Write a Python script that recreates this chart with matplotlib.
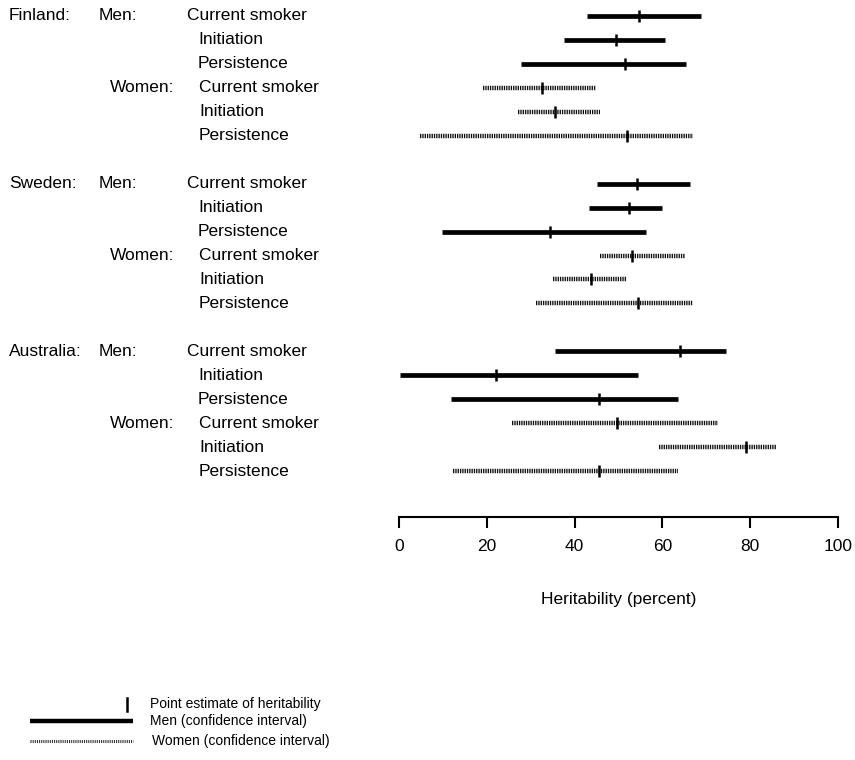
import matplotlib
matplotlib.use("Agg")
import matplotlib.pyplot as plt
from matplotlib.lines import Line2D
import matplotlib.transforms as mtransforms

plt.rcParams['font.family'] = ['Liberation Sans', 'DejaVu Sans']

countries = ["Finland:", "Sweden:", "Australia:"]
sexes = ["Men:", "Women:"]
measures = ["Current smoker", "Initiation", "Persistence"]

# per country: men (current, initiation, persistence), women (current, initiation, persistence)
low = {
    "Finland:":   [42.8, 37.5, 27.7, 19.2, 27.1, 4.8],
    "Sweden:":    [45.2, 43.3, 9.7, 45.8, 35.0, 31.1],
    "Australia:": [35.5, 0.2, 11.8, 25.8, 59.2, 12.4],
}
high = {
    "Finland:":   [68.8, 60.7, 65.4, 44.8, 45.8, 67.0],
    "Sweden:":    [66.3, 59.8, 56.3, 65.1, 51.9, 67.0],
    "Australia:": [74.6, 54.5, 63.6, 72.6, 85.9, 63.5],
}
est = {
    "Finland:":   [54.7, 49.4, 51.4, 32.5, 35.5, 51.9],
    "Sweden:":    [54.3, 52.3, 34.5, 53.0, 43.7, 54.4],
    "Australia:": [64.0, 22.2, 45.5, 49.7, 79.0, 45.6],
}
xticks = [0, 20, 40, 60, 80, 100]

fig = plt.figure(figsize=(8.55, 7.6), dpi=100)
ax = fig.add_axes([399 / 855, 243 / 760, 439 / 855, 517 / 760])

W = 855.0
H = 760.0
trans = mtransforms.blended_transform_factory(fig.transFigure, ax.transData)

fs = 12.5
row = 0
for c in countries:
    for si, s in enumerate(sexes):
        for mi, m in enumerate(measures):
            k = si * 3 + mi
            y = row
            if si == 0:
                ax.plot([low[c][k], high[c][k]], [y, y], color='black', lw=3.4,
                        solid_capstyle='butt')
                ax.plot([est[c][k]], [y], marker='|', color='black', ms=9, mew=1.8)
            else:
                ax.plot([low[c][k], high[c][k]], [y, y], color='#111111', lw=3.2,
                        linestyle=(0, (0.3, 0.22)), solid_capstyle='butt',
                        dash_capstyle='butt')
                ax.plot([est[c][k]], [y], marker='|', color='black', ms=8, mew=1.8)
            # labels
            if si == 0 and mi == 0:
                fig.text(9 / W, y, c, transform=trans, fontsize=fs, va='center', ha='left')
            if mi == 0:
                fig.text((99 if si == 0 else 110) / W, y, s, transform=trans,
                         fontsize=fs, va='center', ha='left')
            if si == 0:
                xl = 187 if mi == 0 else 198
            else:
                xl = 199
            fig.text(xl / W, y, m, transform=trans, fontsize=fs, va='center', ha='left')
            row += 1
    row += 1

ax.set_xlim(0, 100)
ax.set_ylim(20.9, -0.65)
ax.set_yticks([])
for sp in ['top', 'right', 'left']:
    ax.spines[sp].set_visible(False)
ax.spines['bottom'].set_linewidth(1.5)
ax.set_xticks(xticks)
ax.set_xticklabels([str(v) for v in xticks])
ax.tick_params(axis='x', direction='out', length=8, width=1.5, pad=8, labelsize=12.5)
ax.set_xlabel("Heritability (percent)", fontsize=12.5, labelpad=27)

# legend (drawn manually in figure pixel coordinates)
fig.add_artist(Line2D([127 / W, 127 / W], [1 - 698 / H, 1 - 711 / H], color='black', lw=1.8,
                      transform=fig.transFigure))
fig.add_artist(Line2D([30 / W, 133 / W], [1 - 721 / H, 1 - 721 / H], color='black', lw=3.2,
                      transform=fig.transFigure, solid_capstyle='butt'))
fig.add_artist(Line2D([30 / W, 133 / W], [1 - 741 / H, 1 - 741 / H], color='#333333', lw=2.2,
                      linestyle=(0, (0.35, 0.35)), transform=fig.transFigure))
fig.text(150 / W, 1 - 704 / H, "Point estimate of heritability", fontsize=10, va='center')
fig.text(150 / W, 1 - 721 / H, "Men (confidence interval)", fontsize=10, va='center')
fig.text(152 / W, 1 - 741 / H, "Women (confidence interval)", fontsize=10, va='center')

fig.savefig("out.png", dpi=100)
